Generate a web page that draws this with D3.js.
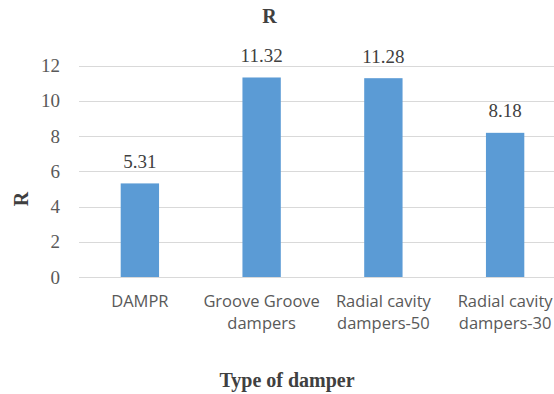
<!DOCTYPE html>
<html>
<head>
<meta charset="utf-8">
<script src="https://cdn.jsdelivr.net/npm/d3@7"></script>
<style>
  html, body { margin: 0; padding: 0; background: #fff; }
  svg { display: block; }
</style>
</head>
<body>
<svg id="chart" width="554" height="394"></svg>
<script>
// Damping ratio R by damper type
const categories = [
  ["DAMPR"],
  ["Groove Groove", "dampers"],
  ["Radial cavity", "dampers-50"],
  ["Radial cavity", "dampers-30"]
];
const values = [5.31, 11.32, 11.28, 8.18];
const yTicks = [0, 2, 4, 6, 8, 10, 12];

const svg = d3.select("#chart");
const plot = { left: 79, right: 566, top: 65.5, bottom: 277 };

const x = d3.scaleBand()
  .domain(d3.range(categories.length))
  .range([plot.left, plot.right])
  .paddingInner(0.685)
  .paddingOuter(0.3425);

const y = d3.scaleLinear().domain([0, 12]).range([plot.bottom, plot.top]);

const serif = "'Liberation Serif', 'Times New Roman', serif";
const sans = "'Open Sans', 'Liberation Sans', sans-serif";

// Horizontal gridlines
svg.append("g")
  .selectAll("line")
  .data(yTicks)
  .join("line")
  .attr("x1", plot.left)
  .attr("x2", 554)
  .attr("y1", d => Math.round(y(d)) + 0.5)
  .attr("y2", d => Math.round(y(d)) + 0.5)
  .attr("stroke", "#d9d9d9")
  .attr("stroke-width", 1);

// Y axis tick labels
const yAxis = d3.axisLeft(y).tickValues(yTicks).tickSize(0).tickPadding(0);
const gy = svg.append("g")
  .attr("transform", `translate(60,0)`)
  .call(yAxis);
gy.select(".domain").remove();
gy.selectAll("text")
  .attr("font-family", serif)
  .attr("font-size", 19)
  .attr("fill", "#595959");

// Bars
svg.append("g")
  .selectAll("rect")
  .data(values)
  .join("rect")
  .attr("x", (d, i) => x(i))
  .attr("width", x.bandwidth())
  .attr("y", d => y(d))
  .attr("height", d => y(0) - y(d))
  .attr("fill", "#5b9bd5");

// Value labels
svg.append("g")
  .selectAll("text")
  .data(values)
  .join("text")
  .attr("x", (d, i) => x(i) + x.bandwidth() / 2)
  .attr("y", d => y(d) - 15.5)
  .attr("text-anchor", "middle")
  .attr("font-family", serif)
  .attr("font-size", 19)
  .attr("fill", "#404040")
  .text(d => d.toFixed(2));

// Category labels
const cat = svg.append("g")
  .selectAll("text")
  .data(categories)
  .join("text")
  .attr("text-anchor", "middle")
  .attr("font-family", sans)
  .attr("font-size", 16.5)
  .attr("fill", "#595959");
cat.each(function (lines, i) {
  const t = d3.select(this);
  lines.forEach((s, k) => {
    t.append("tspan")
      .attr("x", x(i) + x.bandwidth() / 2)
      .attr("y", 307 + k * 22)
      .text(s);
  });
});

// Chart title
svg.append("text")
  .attr("x", 269.5)
  .attr("y", 23)
  .attr("text-anchor", "middle")
  .attr("font-family", serif)
  .attr("font-weight", "bold")
  .attr("font-size", 20)
  .attr("fill", "#404040")
  .text("R");

// Y axis title
svg.append("text")
  .attr("transform", "translate(28,199) rotate(-90)")
  .attr("text-anchor", "middle")
  .attr("font-family", serif)
  .attr("font-weight", "bold")
  .attr("font-size", 20)
  .attr("fill", "#404040")
  .text("R");

// X axis title
svg.append("text")
  .attr("x", 287)
  .attr("y", 387)
  .attr("text-anchor", "middle")
  .attr("font-family", serif)
  .attr("font-weight", "bold")
  .attr("font-size", 20)
  .attr("fill", "#404040")
  .text("Type of damper");
</script>
</body>
</html>
